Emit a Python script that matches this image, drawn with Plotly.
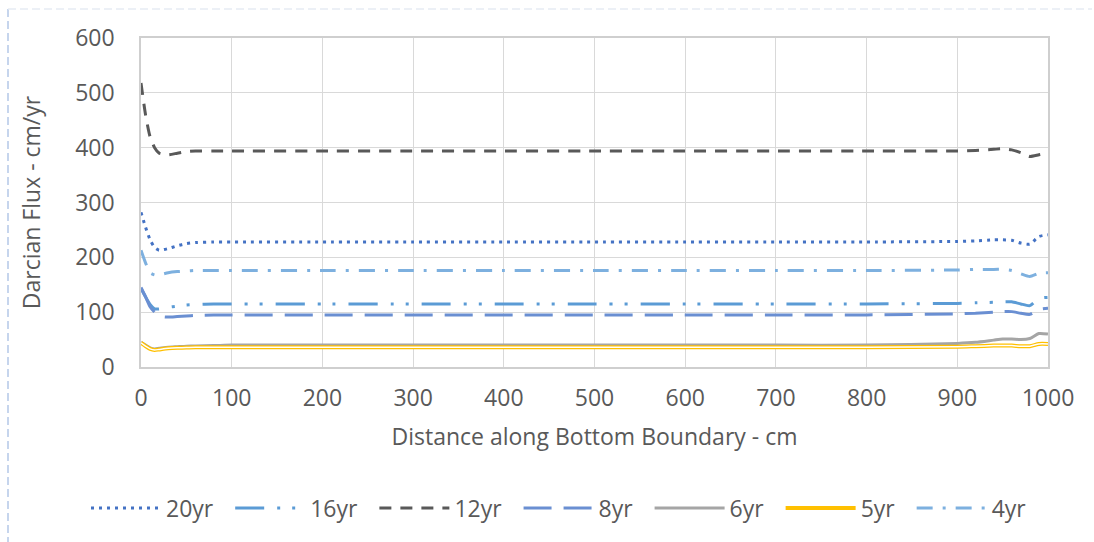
import plotly.graph_objects as go

# Distance along the bottom boundary (cm)
distance = [0, 5, 10, 15, 20, 30, 40, 50, 60, 80, 100, 200, 300, 400, 500,
            600, 700, 800, 900, 920, 940, 950, 960, 970, 980, 990, 1000]

# Darcian flux (cm/yr) for each elapsed time
flux_20yr = [282, 255, 232, 218, 213, 216, 221, 225, 227, 228, 228, 228, 228, 228, 228,
             228, 228, 228, 229, 230, 232, 232, 231, 226, 224, 238, 241]
flux_16yr = [143, 128, 114, 106, 106, 109, 111, 113, 114, 115, 115, 115, 115, 115, 115,
             115, 115, 115, 116, 117, 118, 119, 119, 115, 112, 125, 127]
flux_12yr = [518, 460, 420, 400, 390, 387, 390, 393, 394, 394, 394, 394, 394, 394, 394,
             394, 394, 394, 394, 395, 397, 398, 396, 391, 384, 387, 390]
flux_8yr = [145, 128, 110, 100, 93, 91, 92, 93, 94, 95, 95, 95, 95, 95, 95,
            95, 95, 95, 97, 98, 100, 101, 101, 98, 96, 105, 107]
flux_6yr = [45, 40, 35, 33, 34, 36, 37, 38, 38.5, 39, 40, 40, 40, 40, 40,
            40, 40, 40, 43, 45, 49, 51, 51, 50, 52, 61, 60]
flux_5yr = [44, 38, 33, 31, 32, 34, 35, 35.5, 36, 36, 36, 36, 36, 36, 36,
            36, 36, 36, 37, 38, 39, 39, 39, 38, 38, 42, 42]
flux_4yr = [213, 190, 172, 168, 168, 172, 174, 175, 176, 176, 176, 176, 176, 176, 176,
            176, 176, 176, 177, 178, 178, 178, 176, 170, 165, 171, 172]

x_ticks = [0, 100, 200, 300, 400, 500, 600, 700, 800, 900, 1000]
y_ticks = [0, 100, 200, 300, 400, 500, 600]

FONT = "Open Sans"
SIZE = 23
TEXT = "#595959"
GRID = "#D9D9D9"
PAD = "\u00a0" * 2  # extra room after each legend label

series = [
    ("20yr", flux_20yr, "#4472C4", 3, "3px,5px"),
    ("16yr", flux_16yr, "#5B9BD5", 3, "29px,13px,3px,12px,3px,13px"),
    ("12yr", flux_12yr, "#595959", 3, "12px,9px"),
    ("8yr", flux_8yr, "#6A8FD2", 3, "28px,12px"),
    ("6yr", flux_6yr, "#A5A5A5", 3, "solid"),
    ("5yr", flux_5yr, "#FFC000", 4, "solid"),
    ("4yr", flux_4yr, "#7DB0DF", 3, "16px,10px,3px,10px"),
]

fig = go.Figure()
for name, values, color, width, dash in series:
    fig.add_trace(go.Scatter(
        x=distance, y=values, name=name + PAD, mode="lines",
        line=dict(color=color, width=width, dash=dash, shape="spline", smoothing=0.6),
    ))
    if name == "5yr":
        # white core gives the 5yr curve its double-line look
        fig.add_trace(go.Scatter(
            x=distance, y=values, mode="lines", showlegend=False, hoverinfo="skip",
            line=dict(color="white", width=1.5, shape="spline", smoothing=0.6),
        ))

L, R, T, B = 141, 46, 38, 175
W, H = 1094, 542
pw, ph = W - L - R, H - T - B

def px_x(p):
    return (p - L) / pw

def px_y(p):
    return (H - B - p) / ph

fig.update_layout(
    width=W, height=H,
    margin=dict(l=L, r=R, t=T, b=B, pad=0),
    paper_bgcolor="white", plot_bgcolor="white",
    font=dict(family=FONT, size=SIZE, color=TEXT),
    showlegend=True,
    legend=dict(
        orientation="h", x=px_x(86), xanchor="left", y=px_y(508), yanchor="middle",
        itemwidth=70, font=dict(family=FONT, size=SIZE, color=TEXT),
        traceorder="normal", bgcolor="rgba(0,0,0,0)",
    ),
    xaxis=dict(
        range=[0, 1000], tickvals=x_ticks, ticktext=[str(v) for v in x_ticks],
        showgrid=True, gridcolor=GRID, gridwidth=1.3,
        showline=True, linecolor="#CFCFCF", linewidth=1.5, mirror=True,
        zeroline=False, ticks="", ticklabelstandoff=10,
        title=dict(text="Distance along Bottom Boundary - cm", standoff=17,
                   font=dict(family=FONT, size=SIZE, color=TEXT)),
    ),
    yaxis=dict(
        range=[0, 600], tickvals=y_ticks, ticktext=[str(v) for v in y_ticks],
        showgrid=True, gridcolor=GRID, gridwidth=1.3,
        showline=True, linecolor="#CFCFCF", linewidth=1.5, mirror=True,
        zeroline=False, ticks="", ticklabelstandoff=20,
        title=dict(text="Darcian Flux - cm/yr", standoff=28,
                   font=dict(family=FONT, size=SIZE, color=TEXT)),
    ),
    shapes=[
        dict(type="line", xref="paper", yref="paper",
             x0=px_x(8), x1=px_x(8), y0=px_y(9), y1=px_y(542),
             line=dict(color="#B4C7E7", width=1.5, dash="8px,4px")),
        dict(type="line", xref="paper", yref="paper",
             x0=px_x(8), x1=px_x(1092), y0=px_y(9), y1=px_y(9),
             line=dict(color="#E6EBF3", width=1.5, dash="8px,4px")),
    ],
)

fig.write_html("out.html")
